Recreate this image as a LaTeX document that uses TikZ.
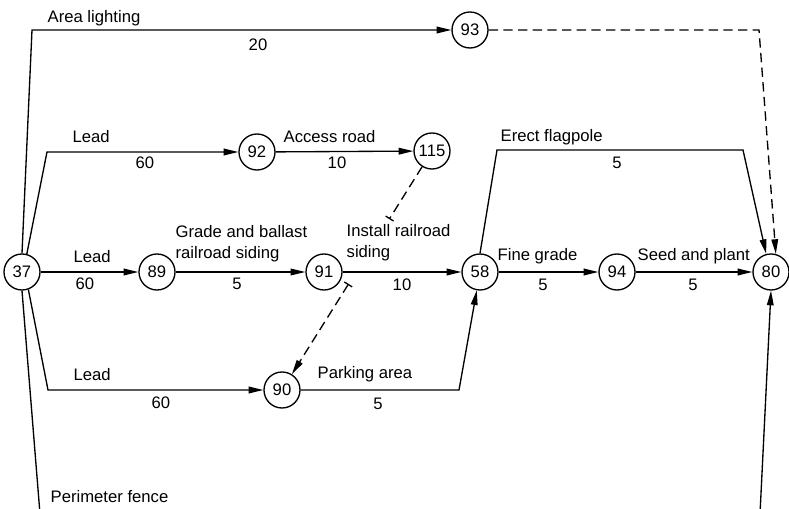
\documentclass[tikz,border=0pt]{standalone}
\usepackage{fontspec}
\setmainfont{Liberation Sans}
\usetikzlibrary{arrows.meta,calc}
\newcommand{\dfont}{\fontsize{12.5}{16}\selectfont}
\begin{document}
\begin{tikzpicture}[x=0.75pt,y=-0.75pt, line width=1pt,
  ev/.style={circle,draw,minimum size=27pt,inner sep=0pt,font=\dfont},
  lab/.style={font=\dfont,inner sep=0pt},
  arr/.style={-{Triangle[length=11pt,width=5pt]}},
  dum/.style={dash pattern=on 7pt off 4pt}]
\useasboundingbox (0,0) rectangle (789,509);
\clip (0,0) rectangle (789,509);
% events
\node[ev] (n37) at (22,272) {37};
\node[ev] (n89) at (157,272) {89};
\node[ev] (n91) at (324,272) {91};
\node[ev] (n58) at (480,272) {58};
\node[ev] (n94) at (617,272) {94};
\node[ev] (n80) at (771,272) {80};
\node[ev] (n92) at (257,152) {92};
\node[ev] (n115) at (432,151) {115};
\node[ev] (n93) at (470,30) {93};
\node[ev] (n90) at (282,390) {90};
% activities
\draw[arr] (n37.north) -- (32,30) -- (n93);
\draw[arr] (n37.75) -- (47,152) -- (n92);
\draw[arr] (n37) -- (n89);
\draw[arr] (n37.-70) -- (48,390) -- (n90);
\draw[arr] (n37.south) -- (40,514) -- (760,514) -- (n80.south);
\draw[arr] (n92) -- (n115);
\draw[arr] (n89) -- (n91);
\draw[arr] (n91) -- (n58);
\draw[arr] (n58) -- (n94);
\draw[arr] (n94) -- (n80);
\draw[arr] (n58.north) -- (497,150) -- (743,150) -- (n80.105);
\draw[arr] (n90) -- (459,390) -- (n58.260);
\draw[arr,dum] (n93) -- (759,30) -- (n80.75);
% dummy 115 -> 90 with break
\coordinate (d1) at ($(n115)!0.285!(n90)$);
\coordinate (d2) at ($(n115)!0.556!(n90)$);
\draw[dum,-{Bar[width=7pt]}] (n115) -- (d1);
\draw[dum,{Bar[width=7pt]}-{Triangle[length=11pt,width=5pt]}] (d2) -- (n90);
% labels
\node[lab,anchor=west] (tArea) at (47,18) {Area lighting};
\node[lab] (t20) at (258,45) {20};
\node[lab,anchor=west] (tLead1) at (72,137) {Lead};
\node[lab] (t601) at (145,163) {60};
\node[lab,anchor=west] (tAccess) at (283,137) {Access road};
\node[lab] (t10a) at (337,163) {10};
\node[lab,anchor=west] (tErect) at (500,137) {Erect flagpole};
\node[lab] (t5e) at (617,163) {5};
\node[lab,anchor=west] (tLead2) at (73,257) {Lead};
\node[lab] (t602) at (85,284) {60};
\node[lab,anchor=south west,align=left] (tGrade) at (175,263) {Grade and ballast\\railroad siding};
\node[lab] (t5g) at (237,284) {5};
\node[lab,anchor=south west,align=left] (tInstall) at (346,262) {Install railroad\\siding};
\node[lab] (t10b) at (402,285) {10};
\node[lab,anchor=west] (tFine) at (497,256) {Fine grade};
\node[lab] (t5f) at (543,285) {5};
\node[lab,anchor=west] (tSeed) at (637,256) {Seed and plant};
\node[lab] (t5s) at (693,285) {5};
\node[lab,anchor=west] (tLead3) at (73,375) {Lead};
\node[lab] (t603) at (161,403) {60};
\node[lab,anchor=west] (tPark) at (317,374) {Parking area};
\node[lab] (t5p) at (378,404) {5};
\node[lab,anchor=west] (tPerim) at (50,497) {Perimeter fence};
\end{tikzpicture}
\end{document}
